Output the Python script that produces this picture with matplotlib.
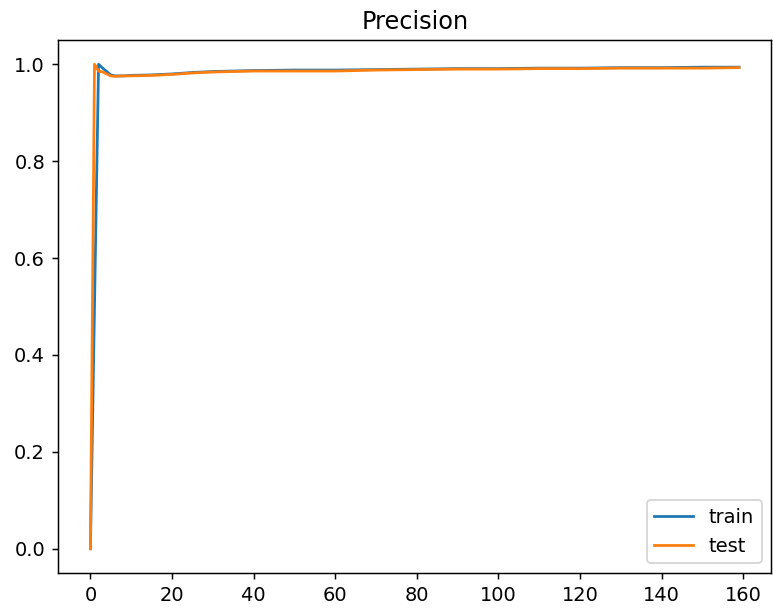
import matplotlib
matplotlib.use('Agg')
import matplotlib.pyplot as plt

# epochs and precision values
epochs_train = [0, 1, 2, 3, 4, 5, 6, 8, 10, 15, 20, 25, 30, 40, 50, 60, 70, 80, 90, 100, 110, 120, 130, 140, 150, 159]
train = [0.0, 0.5, 1.0, 0.992, 0.985, 0.978, 0.976, 0.976, 0.977, 0.978, 0.980, 0.983, 0.985, 0.987, 0.988, 0.988,
         0.989, 0.990, 0.991, 0.991, 0.992, 0.992, 0.993, 0.993, 0.994, 0.994]

epochs_test = [0, 1, 2, 3, 4, 5, 6, 8, 10, 15, 20, 25, 30, 40, 50, 60, 70, 80, 90, 100, 110, 120, 130, 140, 150, 159]
test = [0.0, 1.0, 0.986, 0.984, 0.980, 0.976, 0.975, 0.976, 0.976, 0.977, 0.979, 0.982, 0.984, 0.986, 0.986, 0.986,
        0.988, 0.989, 0.990, 0.990, 0.991, 0.991, 0.992, 0.992, 0.992, 0.993]

dpi = 133
fig = plt.figure(figsize=(773 / dpi, 614 / dpi), dpi=dpi)
ax = fig.add_axes([0.075, 0.0668, 0.923, 0.868])
ax.plot(epochs_train, train, label='train')
ax.plot(epochs_test, test, label='test')
ax.set_title('Precision', fontsize=13)
ax.tick_params(labelsize=10.5)
ax.legend(loc='lower right', fontsize=10.5)
fig.savefig('out.png', dpi=dpi)
